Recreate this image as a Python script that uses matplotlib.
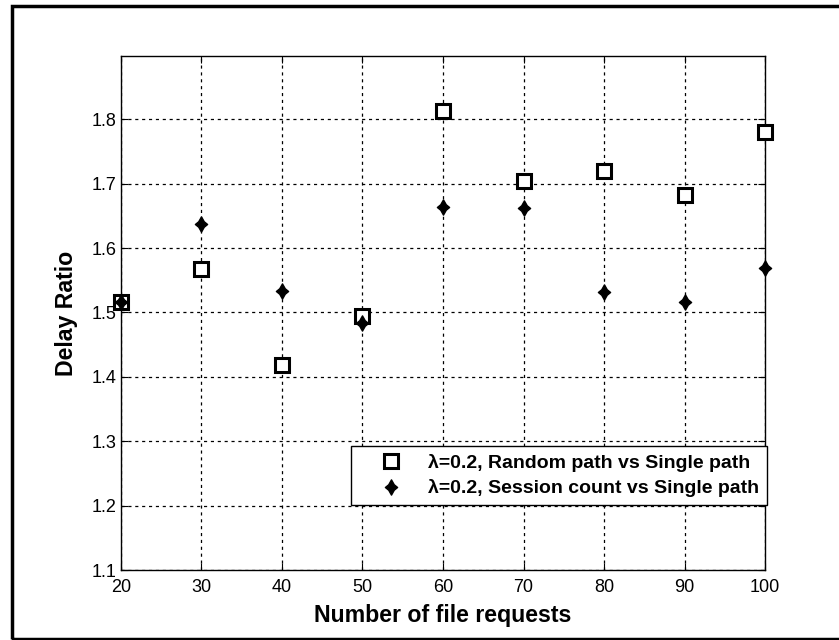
import numpy as np
import matplotlib
matplotlib.use("Agg")
import matplotlib.pyplot as plt
from matplotlib.patches import Rectangle
from matplotlib.path import Path

plt.rcParams['font.family'] = ['Liberation Sans', 'DejaVu Sans']

# data
requests = [20, 30, 40, 50, 60, 70, 80, 90, 100]
random_vs_single = [1.516, 1.567, 1.419, 1.494, 1.812, 1.704, 1.720, 1.682, 1.780]
session_vs_single = [1.516, 1.637, 1.534, 1.484, 1.664, 1.662, 1.531, 1.516, 1.569]
xticks = [20, 30, 40, 50, 60, 70, 80, 90, 100]
yticks = [1.1, 1.2, 1.3, 1.4, 1.5, 1.6, 1.7, 1.8]

# four pointed diamond with slightly pinched sides
star = Path([(0, 1), (0.36, 0.36), (0.8, 0), (0.36, -0.36), (0, -1), (-0.36, -0.36),
             (-0.8, 0), (-0.36, 0.36), (0, 1)], closed=True)

fig = plt.figure(figsize=(8.39, 6.4), dpi=100)
ax = fig.add_axes([0.144, 0.109, 0.768, 0.8035])

ax.plot(requests, random_vs_single, 's', ms=10, mfc='white', mec='black', mew=2.2,
        label='λ=0.2, Random path vs Single path', clip_on=False, zorder=3)
ax.plot(requests, session_vs_single, marker=star, ls='none', ms=11, color='black',
        label='λ=0.2, Session count vs Single path', clip_on=False, zorder=4)

ax.set_xlim(20, 100)
ax.set_ylim(1.1, 1.898)
ax.set_xticks(xticks)
ax.set_yticks(yticks)
ax.set_yticklabels([f'{v:.1f}' for v in yticks])
ax.tick_params(direction='in', length=5, labelsize=13, top=True, right=True)
ax.tick_params(axis='x', pad=6)
ax.tick_params(axis='y', pad=3)
ax.grid(True, color='black', linestyle=(0, (2.5, 3)), linewidth=0.9)
for s in ax.spines.values():
    s.set_linewidth(1.0)

ax.set_xlabel('Number of file requests', fontsize=16.7, fontweight='bold', labelpad=6)
ax.set_ylabel('Delay Ratio', fontsize=16.7, fontweight='bold', labelpad=10)

leg = ax.legend(loc='lower right', bbox_to_anchor=(1.003, 0.1265), fancybox=False,
                edgecolor='black', framealpha=1, borderpad=0.4, handletextpad=0.25,
                prop={'weight': 'bold', 'size': 14}, handlelength=3.3, labelspacing=0.4,
                borderaxespad=0)
leg.get_frame().set_linewidth(1.0)

# outer frame of the scanned figure
fig.patches.append(Rectangle((12 / 839, 1 / 640), 1.0, 633 / 640, transform=fig.transFigure,
                             fill=False, edgecolor='black', linewidth=2.5, clip_on=False))

fig.savefig('out.png', dpi=100)
